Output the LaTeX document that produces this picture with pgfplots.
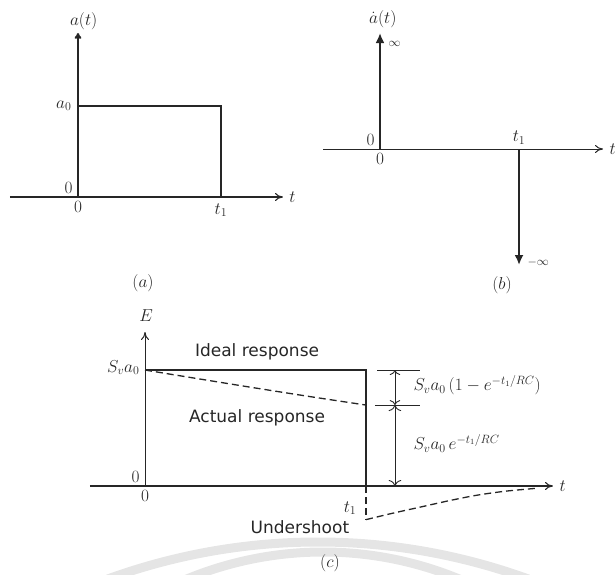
\documentclass[border=0pt]{standalone}
\usepackage{pgfplots}
\pgfplotsset{compat=1.18}
\usepackage{fontspec}
\newfontfamily\labfont{DejaVu Sans}
\usetikzlibrary{arrows.meta}

\pgfplotsset{
  panel/.style={
    scale only axis, axis lines=middle, xtick=\empty, ytick=\empty,
    clip=false, axis line style={black!85, line width=1.1pt, -{To[length=8pt,width=8pt]}},
  },
}

\begin{document}
\begin{tikzpicture}[font=\fontsize{18}{21}\selectfont, black!85]
\useasboundingbox (0,0) rectangle (616pt,-575pt);

% faint circular stamp in the background
\draw[gray!20, line width=9pt] (318pt,-1158pt) ++(70:616pt) arc[start angle=70, end angle=110, radius=616pt];
\draw[gray!20, line width=9pt] (323pt,-909pt) ++(67:357pt) arc[start angle=67, end angle=113, radius=357pt];

% (a) rectangular acceleration pulse
\begin{axis}[panel, at={(78pt,-197pt)}, anchor=origin,
  width=273pt, height=164pt,
  xmin=-0.476, xmax=1.434, ymin=0, ymax=1.80,
  y axis line style={line width=2.2pt, -{To[length=6pt,width=7pt]}}]
  \addplot[black!85, line width=1.4pt] coordinates {(0,1) (1,1) (1,0)};
  \node[above=0pt] at (axis cs:0.04,1.80) {$a(t)$};
  \node[left=3pt] at (axis cs:0,1) {$a_0$};
  \node[anchor=south east, xshift=-2pt] at (axis cs:0,0) {$0$};
  \node[below=1pt] at (axis cs:0,0) {$0$};
  \node[below=3pt] at (axis cs:1,0) {$t_1$};
  \node[right=3pt] at (axis cs:1.434,0) {$t$};
  \node[font=\fontsize{16}{19}\selectfont] at (axis cs:0.455,-0.95) {$(a)$};
\end{axis}

% (b) its derivative: two impulses
\begin{axis}[panel, at={(380pt,-149pt)}, anchor=origin,
  width=280pt, height=232pt,
  xmin=-0.41, xmax=1.604, ymin=-1, ymax=1, axis y line=none,
  x axis line style={line width=1pt}]
  \addplot[black!85, line width=2.2pt, -{Latex[length=10pt,width=9pt]}] coordinates {(0,0) (0,1)};
  \addplot[black!85, line width=2.2pt, -{Latex[length=10pt,width=9pt]}] coordinates {(1,0) (1,-1)};
  \node[above=2pt] at (axis cs:0.02,1) {$\dot{a}(t)$};
  \node[right=5pt, font=\fontsize{13}{15}\selectfont] at (axis cs:0,0.91) {$\infty$};
  \node[right=5pt, font=\fontsize{13}{15}\selectfont] at (axis cs:1,-0.98) {$-\infty$};
  \node[anchor=south east, xshift=-2pt] at (axis cs:0,0) {$0$};
  \node[below=1pt] at (axis cs:0,0) {$0$};
  \node[above=1pt] at (axis cs:1,0) {$t_1$};
  \node[right=3pt] at (axis cs:1.604,0) {$t$};
  \node[font=\fontsize{16}{19}\selectfont] at (axis cs:0.878,-1.17) {$(b)$};
\end{axis}

% (c) ideal and actual output of the transducer
\begin{axis}[panel, at={(145pt,-486pt)}, anchor=origin,
  width=463pt, height=154pt,
  xmin=-0.249, xmax=1.846, ymin=0, ymax=1.328,
  y axis line style={line width=1pt}]
  % ideal response
  \addplot[black!85, line width=1.5pt] coordinates {(0,1) (1,1) (1,0)};
  % actual response (decay during the pulse)
  \addplot[black!85, line width=1.3pt, dash pattern=on 7pt off 4pt, smooth]
    coordinates {(0,1) (0.25,0.922) (0.5,0.845) (0.75,0.77) (1,0.698)};
  % undershoot after the pulse
  \addplot[black!85, line width=1.3pt, dash pattern=on 7pt off 4pt]
    coordinates {(1,0) (1,-0.29)};
  \addplot[black!85, line width=1.3pt, dash pattern=on 7pt off 4pt, smooth]
    coordinates {(1,-0.29) (1.12,-0.235) (1.25,-0.18) (1.38,-0.125)
                 (1.5,-0.08) (1.63,-0.045) (1.77,-0.02)};
  % dimension lines
  \addplot[black!85, line width=0.9pt] coordinates {(1.05,1) (1.244,1)};
  \addplot[black!85, line width=0.9pt] coordinates {(1.04,0.698) (1.244,0.698)};
  \addplot[black!85, line width=0.9pt, {To[length=5pt]}-{To[length=5pt]}]
    coordinates {(1.131,1) (1.131,0.698)};
  \addplot[black!85, line width=0.9pt, {To[length=6pt]}-{To[length=6pt]}]
    coordinates {(1.131,0.698) (1.131,0)};

  \node[above=7pt] at (axis cs:0.005,1.328) {$E$};
  \node[left=2pt] at (axis cs:0,1.02) {$S_v a_0$};
  \node[anchor=south east, xshift=-2pt] at (axis cs:0,0) {$0$};
  \node[below=1pt] at (axis cs:0,0) {$0$};
  \node at (axis cs:0.928,-0.19) {$t_1$};
  \node[right=3pt] at (axis cs:1.846,0) {$t$};
  \node[anchor=west, font=\fontsize{17}{20}\selectfont] at (axis cs:1.199,0.87) {$S_v a_0\,(1-e^{-t_1/RC})$};
  \node[anchor=west, font=\fontsize{17}{20}\selectfont] at (axis cs:1.199,0.37) {$S_v a_0\,e^{-t_1/RC}$};
  \node[font=\labfont\fontsize{17}{20}\selectfont] at (axis cs:0.507,1.155) {Ideal response};
  \node[font=\labfont\fontsize{17}{20}\selectfont] at (axis cs:0.507,0.586) {Actual response};
  \node[font=\labfont\fontsize{17}{20}\selectfont] at (axis cs:0.701,-0.355) {Undershoot};
  \node[font=\fontsize{16}{19}\selectfont] at (axis cs:0.837,-0.664) {$(c)$};
\end{axis}
\end{tikzpicture}
\end{document}
